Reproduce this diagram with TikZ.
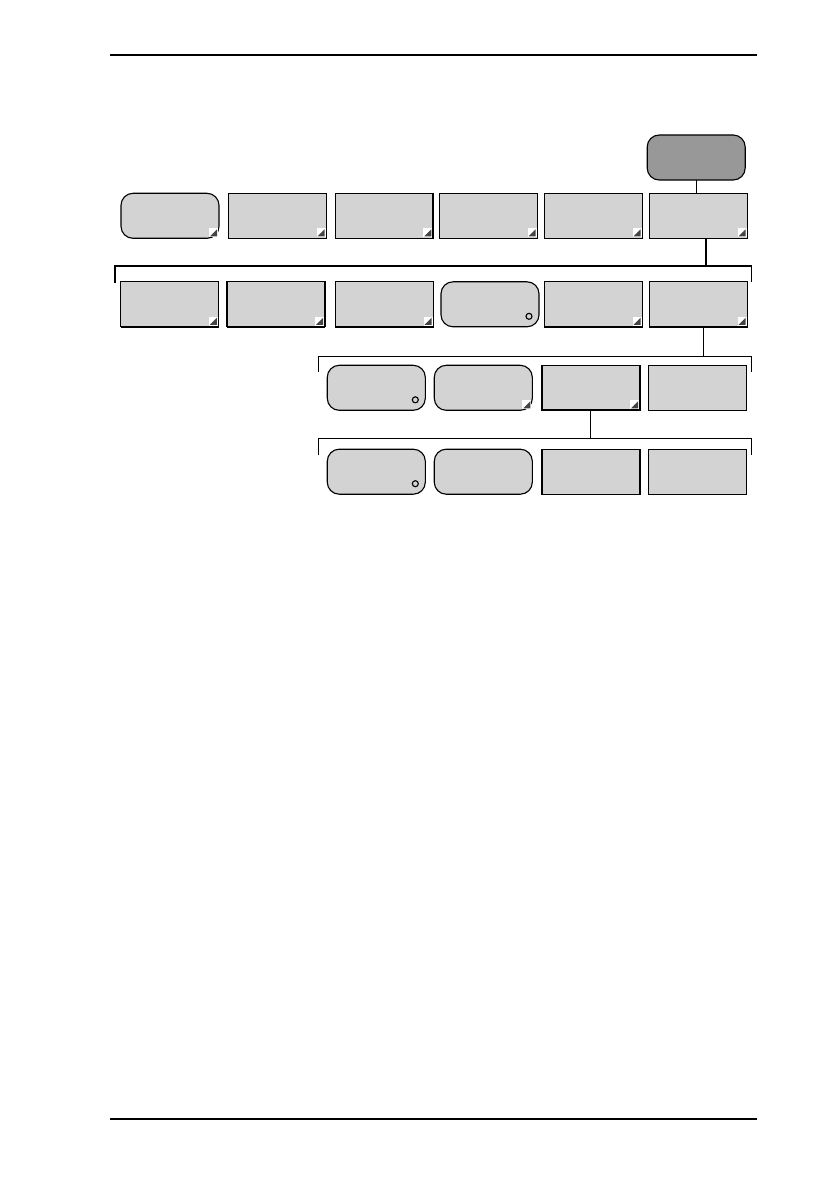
\documentclass[tikz,border=0pt]{standalone}
\usepackage{tikz}
\usetikzlibrary{calc}

\definecolor{keygray}{RGB}{212,211,212}
\definecolor{topgray}{RGB}{153,152,153}
\definecolor{markgray}{RGB}{68,68,68}

\tikzset{
    key/.style={draw, fill=keygray, line width=0.8pt, minimum width=2.45cm,
        minimum height=1.125cm, inner sep=0pt, outer sep=0pt},
    softkey/.style={key, rounded corners=0.3cm},
    topkey/.style={softkey, fill=topgray},
    bracket/.style={line width=0.8pt}
}

\begin{document}
\begin{tikzpicture}[x=0.025cm,y=-0.025cm]
        \pgfmathsetmacro\ra{215.8}
        \pgfmathsetmacro\rb{304.3}
        \pgfmathsetmacro\rc{387.8}
        \pgfmathsetmacro\rd{471.7}
        \useasboundingbox (0,0) rectangle (840,1190);
        \draw[line width=1pt] (110,55) -- (757,55);
        \draw[line width=1pt] (110,1119) -- (757,1119);
        \node[topkey] (T) at (696.2,157.5) {};
        \node[softkey] (B1) at (170,\ra) {};
        \node[key] (B2) at (277.5,\ra) {};
        \node[key] (B3) at (384.3,\ra) {};
        \node[key] (B4) at (488.5,\ra) {};
        \node[key] (B5) at (593.5,\ra) {};
        \node[key] (B6) at (698.5,\ra) {};
        \node[key] (C1) at (169.9,\rb) {};
        \node[key] (C2) at (276,\rb) {};
        \node[key] (C3) at (384.5,\rb) {};
        \node[softkey] (C4) at (490,\rb) {};
        \node[key] (C5) at (593.5,\rb) {};
        \node[key] (C6) at (698.5,\rb) {};
        \node[softkey] (D1) at (376.3,\rc) {};
        \node[softkey] (D2) at (483.3,\rc) {};
        \node[key] (D3) at (591,\rc) {};
        \node[key] (D4) at (697.5,\rc) {};
        \node[softkey] (E1) at (376.3,\rd) {};
        \node[softkey] (E2) at (483.3,\rd) {};
        \node[key] (E3) at (591,\rd) {};
        \node[key] (E4) at (697.5,\rd) {};
        \draw[line width=1.6pt] (B3.north east) -- (B3.south east);
        \foreach \n in {C1,C2,C3,C5,C6,D3}
            \draw[line width=1.6pt] (\n.south west) -- (\n.south east);
        \foreach \n in {B1,B2,B3,B4,B5,B6,C1,C2,C3,C5,C6,D2,D3}{
            \fill[white] ($(\n.south east)+(-10,-10)$) rectangle ($(\n.south east)+(-1,-1)$);
            \fill[markgray] ($(\n.south east)+(-9,-2)$) -- ($(\n.south east)+(-2,-2)$)
                -- ($(\n.south east)+(-2,-9)$) -- cycle;
        }
        \foreach \n in {C4,D1,E1}
            \draw[line width=0.8pt] ($(\n.south east)+(-10,-10.5)$) circle (3);
        \coordinate (P1) at (706,266);
        \coordinate (P2) at (703.3,356.3);
        \coordinate (P3) at (590.7,438.7);
        \draw[bracket] (T.south) -- (T.south |- B6.north);
        \draw[line width=1.8pt] (P1 |- B6.south) -- (P1);
        \draw[bracket] (115,282.7) -- (115,266) -- (751.7,266) -- (751.7,281.7);
        \draw[bracket] (P2 |- C6.south) -- (P2);
        \draw[bracket] (318.3,371.7) -- (318.3,356.3) -- (751.7,356.3) -- (751.7,371.7);
        \draw[bracket] (P3 |- D3.south) -- (P3);
        \draw[bracket] (318.3,455) -- (318.3,438.7) -- (751.7,438.7) -- (751.7,455);
    \end{tikzpicture}
\end{document}
